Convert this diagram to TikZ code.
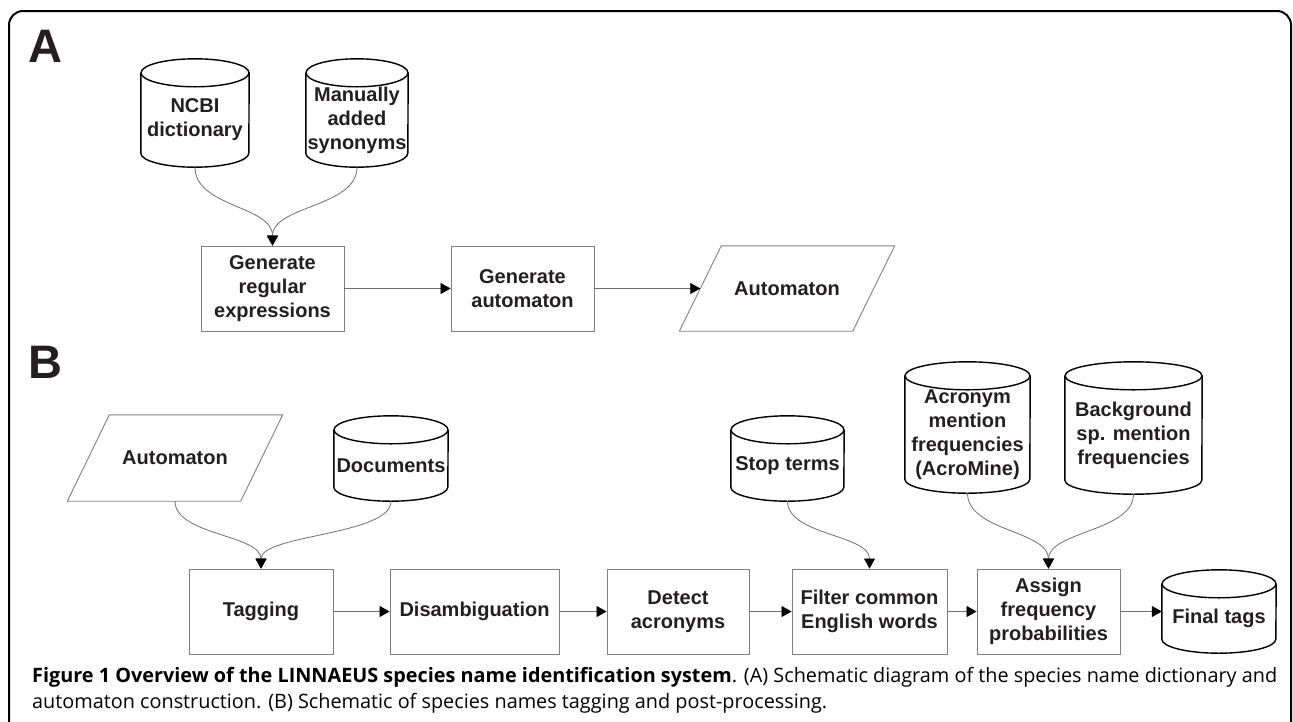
\documentclass[tikz,border=0pt]{standalone}
\usepackage{fontspec}
\setmainfont{Liberation Sans}
\newfontfamily\capfont{Open Sans}
\usetikzlibrary{arrows.meta,calc}
\newlength\capw
\definecolor{boxgray}{HTML}{808080}
\definecolor{conngray}{HTML}{6E6E6E}
\definecolor{txt}{HTML}{231F20}
\tikzset{
  lbl/.style={align=center, inner sep=0pt, text=txt, font=\fontsize{20pt}{24pt}\selectfont\bfseries},
  procbox/.style={lbl, draw=boxgray, line width=0.9pt},
  cylbody/.style={draw=none, inner sep=0pt},
  cylline/.style={draw=black, line width=1.4pt},
  paraline/.style={draw=boxgray, line width=0.9pt},
  conn/.style={draw=conngray, line width=0.8pt, -{Triangle[length=10pt,width=11pt,color=black]}},
  panel/.style={anchor=base west, inner sep=0pt, text=txt, font=\fontsize{47pt}{47pt}\selectfont\bfseries}
}
% cylinder: name, cx, cy, width, height, text
\newcommand{\mycyl}[6]{%
  \node[cylbody, minimum width=#4pt, minimum height=#5pt] (#1) at (#2,#3) {};
  \draw[cylline] ([yshift=-14pt]#1.north west) -- ([yshift=14pt]#1.south west)
     arc[start angle=180, end angle=360, x radius=#4pt/2, y radius=14pt]
     -- ([yshift=-14pt]#1.north east);
  \draw[cylline] ([yshift=-14pt]#1.north) ellipse[x radius=#4pt/2, y radius=14pt];
  \node[lbl] (#1-t) at ([yshift=-7pt]#1.center) {#6};
}
% parallelogram: name, cx, cy, height, text
\newcommand{\mypara}[5]{%
  \node[lbl, minimum width=173pt, minimum height=#4pt] (#1) at (#2,#3) {#5};
  \draw[paraline] ([xshift=21pt]#1.north west) -- ([xshift=21pt]#1.north east)
     -- ([xshift=-21pt]#1.south east) -- ([xshift=-21pt]#1.south west) -- cycle;
}
\begin{document}
\settowidth{\capw}{\capfont\fontsize{10pt}{12pt}\selectfont\bfseries Figure 1 Overview of the LINNAEUS species name identification system\mdseries. (A) Schematic diagram of the species name dictionary and}%
\pgfmathsetmacro{\capsz}{10*1245/\capw}%
\pgfmathsetmacro{\capbs}{1.2*\capsz}%
\begin{tikzpicture}[x=1pt,y=-1pt]
\useasboundingbox (0,0) rectangle (1293,721);
\begin{scope}
  \clip (0,0) rectangle (1293,721);
  \draw[line width=2pt, rounded corners=14pt] (9,11) rectangle (1291,760);
\end{scope}

% ---------- Panel A ----------
\node[panel] (labA) at (28,62) {A};
\mycyl{ncbi}{195}{113}{108}{108}{NCBI\\dictionary}
\mycyl{manual}{357}{113}{102}{108}{Manually\\added\\synonyms}
\node[procbox, minimum width=143pt, minimum height=85pt] (regex) at (272.5,288.5) {Generate\\regular\\expressions};
\node[procbox, minimum width=143pt, minimum height=85pt] (gauto) at (522.5,288.5) {Generate\\automaton};
\mypara{autoA}{787}{288.5}{85}{Automaton}

\draw[conn] (ncbi.south) .. controls +(0,40) and +(0,-40) .. (regex.north);
\draw[conn] (manual.south) .. controls +(0,40) and +(0,-40) .. (regex.north);
\draw[conn] (regex) -- (gauto);
\draw[conn] (gauto) -- (autoA);

% ---------- Panel B ----------
\node[panel] (labB) at (28,378) {B};
\mypara{autoB}{175}{458}{86}{Automaton}
\mycyl{docs}{391}{458.5}{114}{85}{Documents}
\mycyl{stop}{787.5}{458.5}{113}{85}{Stop terms}
\mycyl{acro}{967.5}{427.5}{125}{131}{Acronym\\mention\\frequencies\\(AcroMine)}
\mycyl{backg}{1133.5}{428}{137}{132}{Background\\sp. mention\\frequencies}

\node[procbox, minimum width=144pt, minimum height=85pt] (tag) at (261,611.5) {Tagging};
\node[procbox, minimum width=169pt, minimum height=85pt] (dis) at (474.5,611.5) {Disambiguation};
\node[procbox, minimum width=142pt, minimum height=85pt] (det) at (678,611.5) {Detect\\acronyms};
\node[procbox, minimum width=155pt, minimum height=85pt] (filt) at (869.5,611.5) {Filter common\\English words};
\node[procbox, minimum width=143pt, minimum height=85pt] (assign) at (1048.5,611.5) {Assign\\frequency\\probabilities};
\mycyl{final}{1219}{611.5}{114}{83}{Final tags}

\draw[conn] (autoB.south) .. controls +(0,34) and +(0,-34) .. (tag.north);
\draw[conn] (docs.south) .. controls +(0,34) and +(0,-34) .. (tag.north);
\draw[conn] (stop.south) .. controls +(0,34) and +(0,-34) .. (filt.north);
\draw[conn] (acro.south) .. controls +(0,38) and +(0,-38) .. (assign.north);
\draw[conn] (backg.south) .. controls +(0,37) and +(0,-37) .. (assign.north);
\draw[conn] (tag) -- (dis);
\draw[conn] (dis) -- (det);
\draw[conn] (det) -- (filt);
\draw[conn] (filt) -- (assign);
\draw[conn] (assign) -- (final);

% ---------- Caption ----------
\node[anchor=base west, inner sep=0pt, text=black, font=\capfont\fontsize{\capsz pt}{\capbs pt}\selectfont] (cap1) at (32,682)
  {\bfseries Figure 1 Overview of the LINNAEUS species name identification system\mdseries. (A) Schematic diagram of the species name dictionary and};
\node[anchor=base west, inner sep=0pt, text=black, font=\capfont\fontsize{\capsz pt}{\capbs pt}\selectfont] (cap2) at (32,708)
  {automaton construction. (B) Schematic of species names tagging and post-processing.};
\end{tikzpicture}
\end{document}
